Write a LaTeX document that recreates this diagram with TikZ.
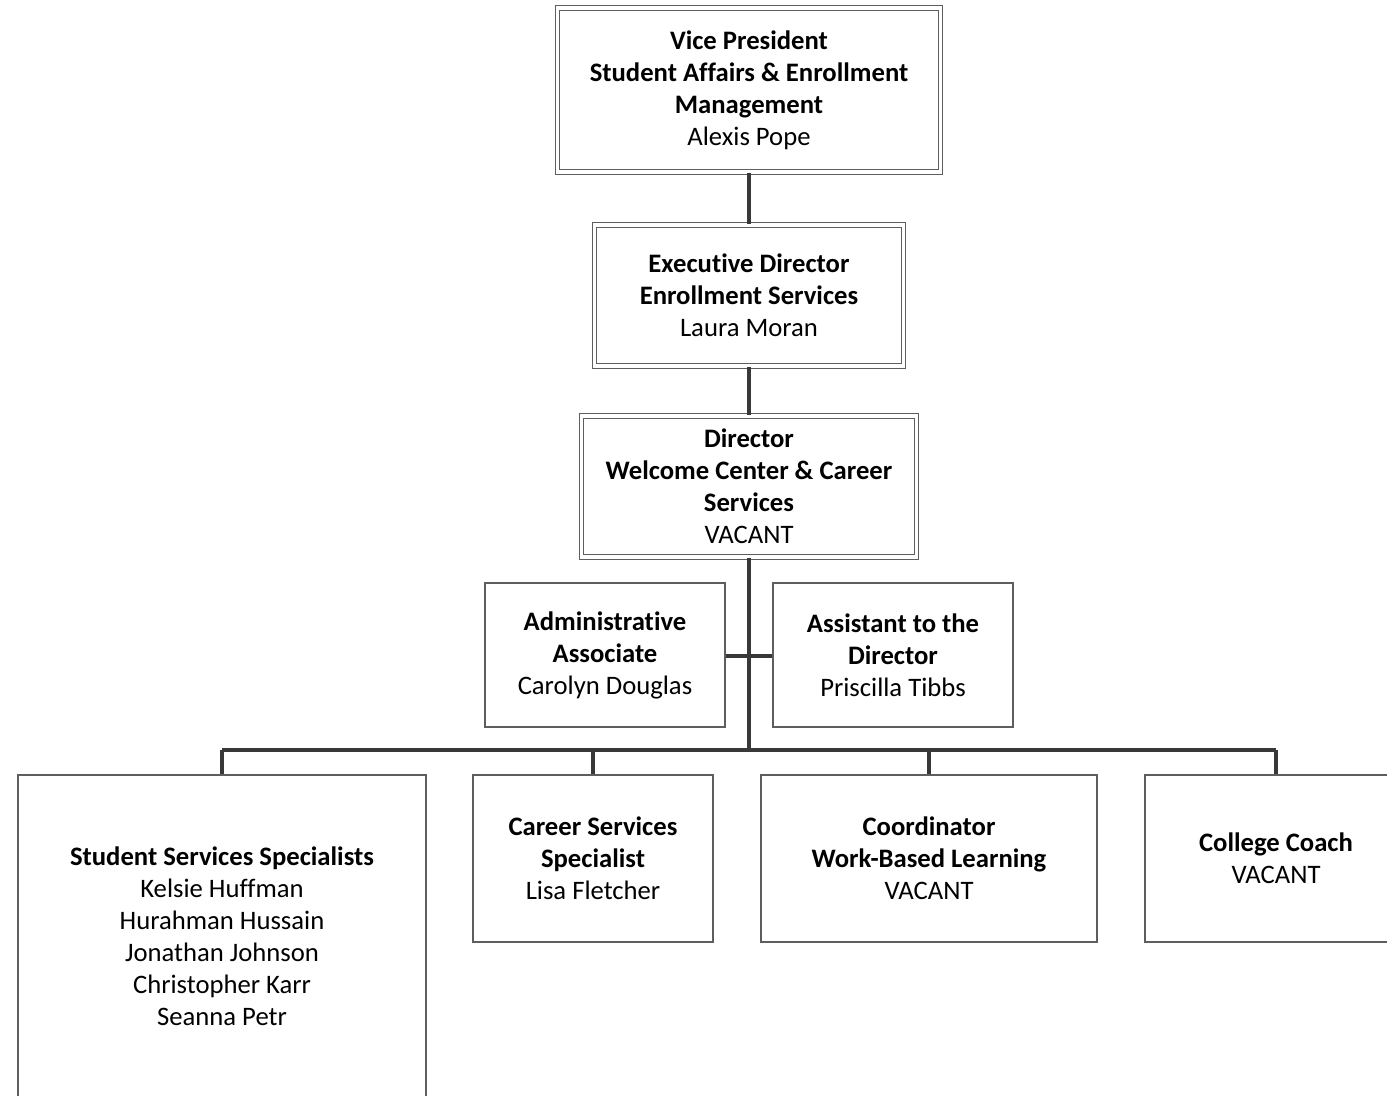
\documentclass[tikz,border=0pt]{standalone}
\usepackage{fontspec}
\setmainfont{Carlito}[Ligatures=NoCommon]
\usepackage{tikz}

\tikzset{
  box/.style={draw=boxgray, line width=1.1pt, fill=white, inner sep=0pt, align=center,
    font=\fontsize{20}{24}\selectfont},
  dbox/.style={box, double=white, double distance=2.6pt, line width=0.8pt},
  link/.style={draw=linkgray, line width=2.4pt}
}
\definecolor{boxgray}{HTML}{5E5E5E}
\definecolor{linkgray}{HTML}{383838}

\begin{document}
\begin{tikzpicture}[x=0.75pt, y=-0.75pt]
        \clip (0,0) rectangle (1387,1095);
        % top chain
        \node[dbox, minimum width=383*0.75pt, minimum height=164*0.75pt] (vp) at (749, 90)
          {\textbf{Vice President}\\ \textbf{Student Affairs \& Enrollment}\\ \textbf{Management}\\ Alexis Pope};
        \node[dbox, minimum width=309*0.75pt, minimum height=141*0.75pt] (exec) at (749, 295.5)
          {\textbf{Executive Director}\\ \textbf{Enrollment Services}\\ Laura Moran};
        \node[dbox, minimum width=335*0.75pt, minimum height=141*0.75pt] (dir) at (749, 486.5)
          {\textbf{Director}\\ \textbf{Welcome Center \& Career}\\ \textbf{Services}\\ VACANT};
        % assistants
        \node[box, minimum width=240*0.75pt, minimum height=144*0.75pt] (admin) at (605, 655)
          {\textbf{Administrative}\\ \textbf{Associate}\\ Carolyn Douglas};
        \node[box, minimum width=240*0.75pt, minimum height=144*0.75pt] (asst) at (893, 655)
          {\textbf{Assistant to the}\\ \textbf{Director}\\ Priscilla Tibbs};
        % bottom row
        \node[box, minimum width=408*0.75pt, minimum height=322*0.75pt] (sss) at (222, 936)
          {\textbf{Student Services Specialists}\\ Kelsie Huffman\\ Hurahman Hussain\\ Jonathan Johnson\\ Christopher Karr\\ Seanna Petr};
        \node[box, minimum width=240*0.75pt, minimum height=167*0.75pt] (css) at (593, 858.5)
          {\textbf{Career Services}\\ \textbf{Specialist}\\ Lisa Fletcher};
        \node[box, minimum width=336*0.75pt, minimum height=167*0.75pt] (wbl) at (929, 858.5)
          {\textbf{Coordinator}\\ \textbf{Work-Based Learning}\\ VACANT};
        \node[box, minimum width=262*0.75pt, minimum height=167*0.75pt] (coach) at (1276, 858.5)
          {\textbf{College Coach}\\ VACANT};

        \coordinate (bus) at (749, 750);
        \coordinate (mid) at (749, 656);

        \draw[link] (vp) -- (exec);
        \draw[link] (exec) -- (dir);
        \draw[link] (dir.south) -- (bus);
        \draw[link] (admin.east |- mid) -- (asst.west |- mid);
        \draw[link] (sss.north |- bus) -- (coach.north |- bus);
        \foreach \n in {sss, css, wbl, coach}
          \draw[link] (\n.north |- bus) -- (\n.north);
\end{tikzpicture}
\end{document}
